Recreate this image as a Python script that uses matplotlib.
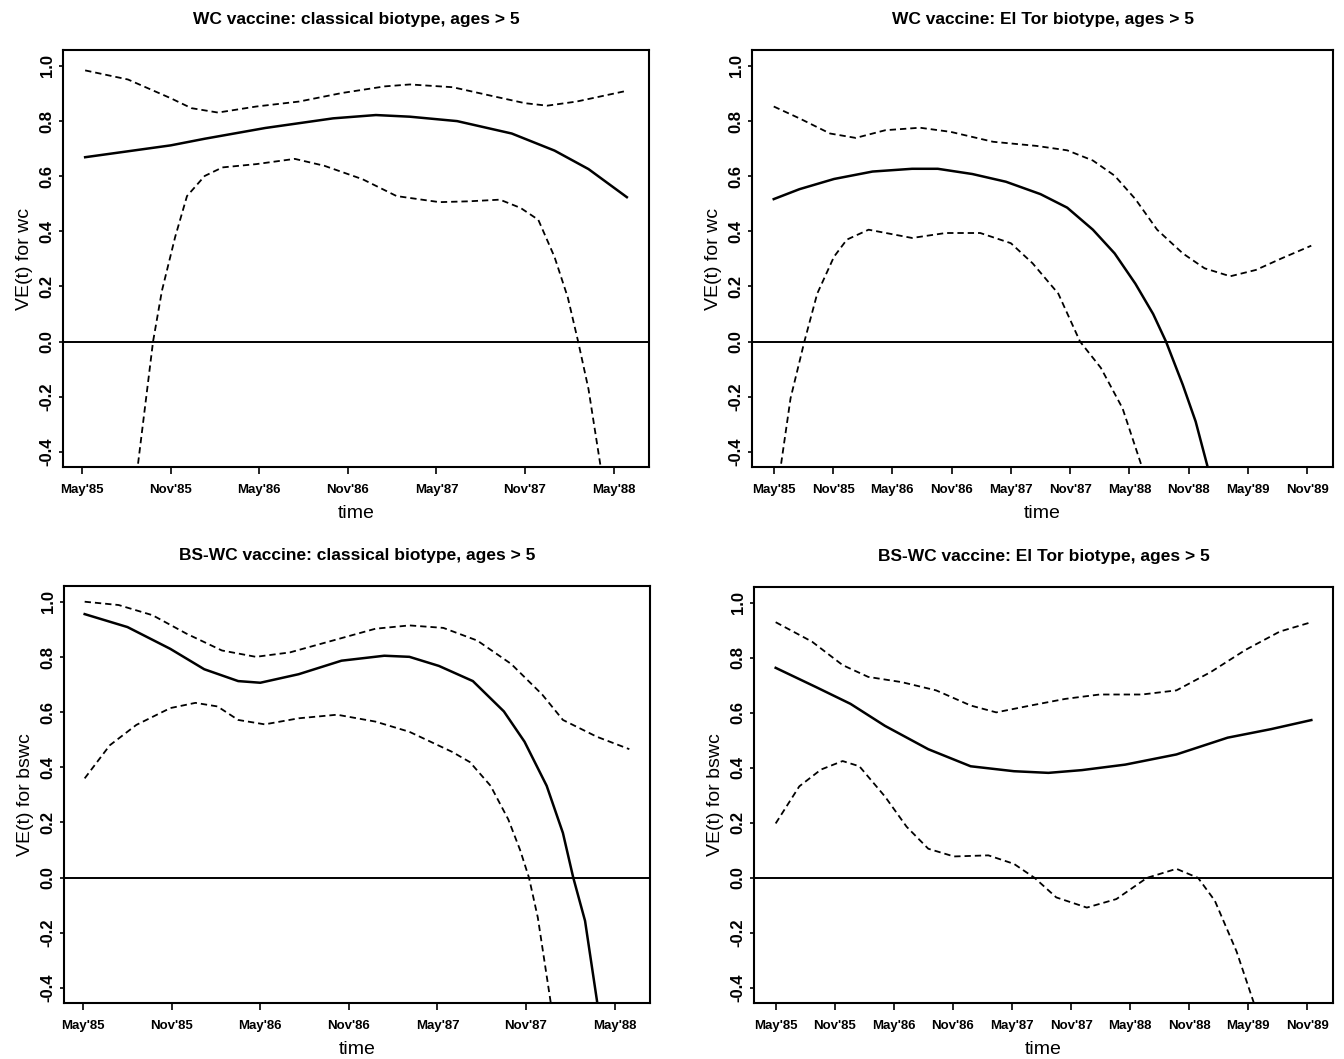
import matplotlib

matplotlib.use("Agg")
import matplotlib.pyplot as plt

plt.rcParams["font.family"] = ["Liberation Sans", "DejaVu Sans"]

# x = months since May 1985
# ---- panel 1: WC vaccine, classical ----
P1_EST_M = [0.2, 6, 8.3, 12.4, 17, 19.9, 22.2, 25.4, 29.1, 32, 34.3, 36.9]
P1_EST_V = [0.669, 0.712, 0.736, 0.775, 0.81, 0.822, 0.816, 0.80, 0.755, 0.693, 0.626, 0.524]
P1_UP_M = [0.2, 3.1, 6, 7.4, 9.2, 11.8, 14.7, 17.6, 20.5, 22.2, 25.1, 27.7, 30, 31.5, 33.5, 36.9]
P1_UP_V = [0.984, 0.951, 0.883, 0.847, 0.831, 0.853, 0.871, 0.902, 0.926, 0.933, 0.923, 0.892,
           0.865, 0.856, 0.871, 0.910]
P1_LO_M = [3.7, 4.8, 5.4, 6.3, 7.1, 8.3, 9.5, 11.8, 14.4, 16.4, 19, 21.3, 24.2, 26.2, 28.3,
           29.7, 30.9, 32, 32.9, 33.6, 34.3, 35.2]
P1_LO_V = [-0.48, 0.0, 0.184, 0.38, 0.528, 0.601, 0.632, 0.644, 0.663, 0.638, 0.589, 0.528,
           0.506, 0.509, 0.515, 0.485, 0.442, 0.307, 0.16, 0.0, -0.172, -0.48]

# ---- panel 2: WC vaccine, El Tor ----
P2_EST_M = [0, 2.6, 6.1, 10, 14, 16.6, 20.1, 23.5, 27, 29.7, 32.3, 34.5, 36.6, 38.4, 39.7,
            41.4, 42.7, 44.1]
P2_EST_V = [0.517, 0.553, 0.59, 0.617, 0.627, 0.627, 0.608, 0.58, 0.535, 0.486, 0.406, 0.32,
            0.21, 0.10, 0.0, -0.157, -0.29, -0.48]
P2_UP_M = [0, 2.6, 5.7, 8.3, 11.3, 14.8, 17.9, 22.2, 26.6, 29.7, 32.3, 34.5, 36.6, 38.8, 41.4,
           43.6, 46.2, 48.8, 51.4, 54.4]
P2_UP_V = [0.853, 0.81, 0.755, 0.739, 0.767, 0.776, 0.761, 0.725, 0.71, 0.694, 0.657, 0.602,
           0.517, 0.406, 0.32, 0.266, 0.237, 0.26, 0.302, 0.348]
P2_LO_M = [0.6, 1.7, 3.1, 4.4, 6.1, 7.4, 9.6, 14, 17.4, 20.9, 24, 26.2, 28.8, 31, 33.1, 35.3,
           37.5]
P2_LO_V = [-0.48, -0.206, 0.0, 0.174, 0.308, 0.37, 0.406, 0.376, 0.394, 0.394, 0.357, 0.284,
           0.174, 0.0, -0.095, -0.242, -0.48]

# ---- panel 3: BS-WC vaccine, classical ----
P3_EST_M = [0.1, 3, 5.9, 8.2, 10.5, 12, 14.6, 17.5, 20.4, 22.1, 24.1, 26.4, 28.5, 29.9, 31.4,
            32.5, 33.2, 34, 34.9]
P3_EST_V = [0.956, 0.909, 0.83, 0.756, 0.713, 0.707, 0.738, 0.787, 0.805, 0.801, 0.768, 0.713,
            0.603, 0.493, 0.333, 0.162, 0.0, -0.157, -0.48]
P3_UP_M = [0.1, 2.4, 4.7, 7, 9.4, 11.7, 14, 16.9, 19.8, 22.1, 24.4, 26.7, 29, 31.1, 32.5, 34.8,
           37]
P3_UP_V = [1.001, 0.989, 0.952, 0.885, 0.824, 0.801, 0.817, 0.86, 0.903, 0.915, 0.906, 0.86,
           0.775, 0.664, 0.572, 0.511, 0.466]
P3_LO_M = [0.1, 1.8, 3.6, 5.9, 7.6, 9.1, 10.5, 12.3, 14.6, 17.2, 19.8, 22.1, 25, 26.2, 27.6,
           28.8, 29.6, 30.2, 30.8, 31.75]
P3_LO_V = [0.36, 0.48, 0.554, 0.615, 0.634, 0.621, 0.572, 0.556, 0.578, 0.591, 0.566, 0.529,
           0.456, 0.419, 0.333, 0.211, 0.1, 0.0, -0.145, -0.48]

# ---- panel 4: BS-WC vaccine, El Tor ----
P4_EST_M = [0, 4.1, 7.6, 11.1, 15.5, 19.8, 24.2, 27.7, 31.1, 35.5, 40.7, 45.9, 50.3, 54.4]
P4_EST_V = [0.764, 0.694, 0.633, 0.553, 0.468, 0.406, 0.388, 0.382, 0.392, 0.412, 0.449, 0.51,
            0.541, 0.574]
P4_UP_M = [0, 3.7, 6.8, 9.4, 12.8, 16.3, 19.8, 22.4, 25.9, 29.4, 32.9, 37.2, 40.7, 44.2, 47.7,
           51.2, 54.4]
P4_UP_V = [0.93, 0.859, 0.774, 0.731, 0.712, 0.682, 0.627, 0.602, 0.627, 0.651, 0.667, 0.667,
           0.682, 0.749, 0.829, 0.896, 0.93]
P4_LO_M = [0, 2.4, 4.6, 6.8, 8.5, 11.1, 13.3, 15.5, 18.1, 21.6, 24.2, 26.3, 28.5, 31.6, 34.6,
           37.7, 40.7, 42.9, 44.6, 46.8, 48.8]
P4_LO_V = [0.198, 0.333, 0.394, 0.425, 0.406, 0.296, 0.186, 0.106, 0.078, 0.082, 0.051, 0.0,
           -0.071, -0.108, -0.077, 0.0, 0.033, 0.0, -0.083, -0.267, -0.48]

TICKS_SHORT = ["May'85", "Nov'85", "May'86", "Nov'86", "May'87", "Nov'87", "May'88"]
TICKS_LONG = TICKS_SHORT + ["Nov'88", "May'89", "Nov'89"]
Y_TICKS = [-0.4, -0.2, 0.0, 0.2, 0.4, 0.6, 0.8, 1.0]

PANELS = [
    ("WC vaccine: classical biotype, ages > 5", "VE(t) for wc", TICKS_SHORT,
     (P1_EST_M, P1_EST_V), (P1_UP_M, P1_UP_V), (P1_LO_M, P1_LO_V)),
    ("WC vaccine: El Tor biotype, ages > 5", "VE(t) for wc", TICKS_LONG,
     (P2_EST_M, P2_EST_V), (P2_UP_M, P2_UP_V), (P2_LO_M, P2_LO_V)),
    ("BS-WC vaccine: classical biotype, ages > 5", "VE(t) for bswc", TICKS_SHORT,
     (P3_EST_M, P3_EST_V), (P3_UP_M, P3_UP_V), (P3_LO_M, P3_LO_V)),
    ("BS-WC vaccine: El Tor biotype, ages > 5", "VE(t) for bswc", TICKS_LONG,
     (P4_EST_M, P4_EST_V), (P4_UP_M, P4_UP_V), (P4_LO_M, P4_LO_V)),
]

W, H = 1344, 1059
# axes boxes in pixels: left, right, top, bottom
BOXES = [(63, 649, 50, 467), (752, 1333, 50, 467), (64, 650, 586, 1003), (754, 1333, 587, 1003)]

fig = plt.figure(figsize=(W / 100, H / 100), dpi=100)

for (title, ylab, xt, est, up, lo), (l, r, t, b) in zip(PANELS, BOXES):
    ax = fig.add_axes([l / W, 1 - b / H, (r - l) / W, (b - t) / H])
    n = len(xt)
    ax.axhline(0, color="black", lw=1.4)
    ax.plot(*est, color="black", lw=1.8)
    for ci in (up, lo):
        ax.plot(*ci, color="black", lw=1.3, dashes=(3.5, 2.2))
    span = 6 * (n - 1)
    pad_l = 1.3 if n == 7 else 2.2
    pad_r = 2.4 if n == 7 else 2.6
    ax.set_xlim(-pad_l, span + pad_r)
    ax.set_ylim(-0.455, 1.058)
    ax.set_xticks([6 * i for i in range(n)])
    ax.set_xticklabels(xt, fontsize=9.5, fontweight="bold")
    ax.set_yticks(Y_TICKS)
    ax.set_yticklabels([f"{v:.1f}" for v in Y_TICKS], rotation=90, va="center",
                       fontsize=12, fontweight="bold")
    ax.tick_params(axis="x", length=5, width=1.2, pad=7)
    ax.tick_params(axis="y", length=3, width=1.2, pad=3)
    for s in ax.spines.values():
        s.set_linewidth(1.5)
    ax.set_title(title, fontsize=12.5, fontweight="bold", pad=19)
    ax.set_xlabel("time", fontsize=14, labelpad=7)
    ax.set_ylabel(ylab, fontsize=14, labelpad=5)

fig.savefig("out.png", dpi=100, facecolor="white")
